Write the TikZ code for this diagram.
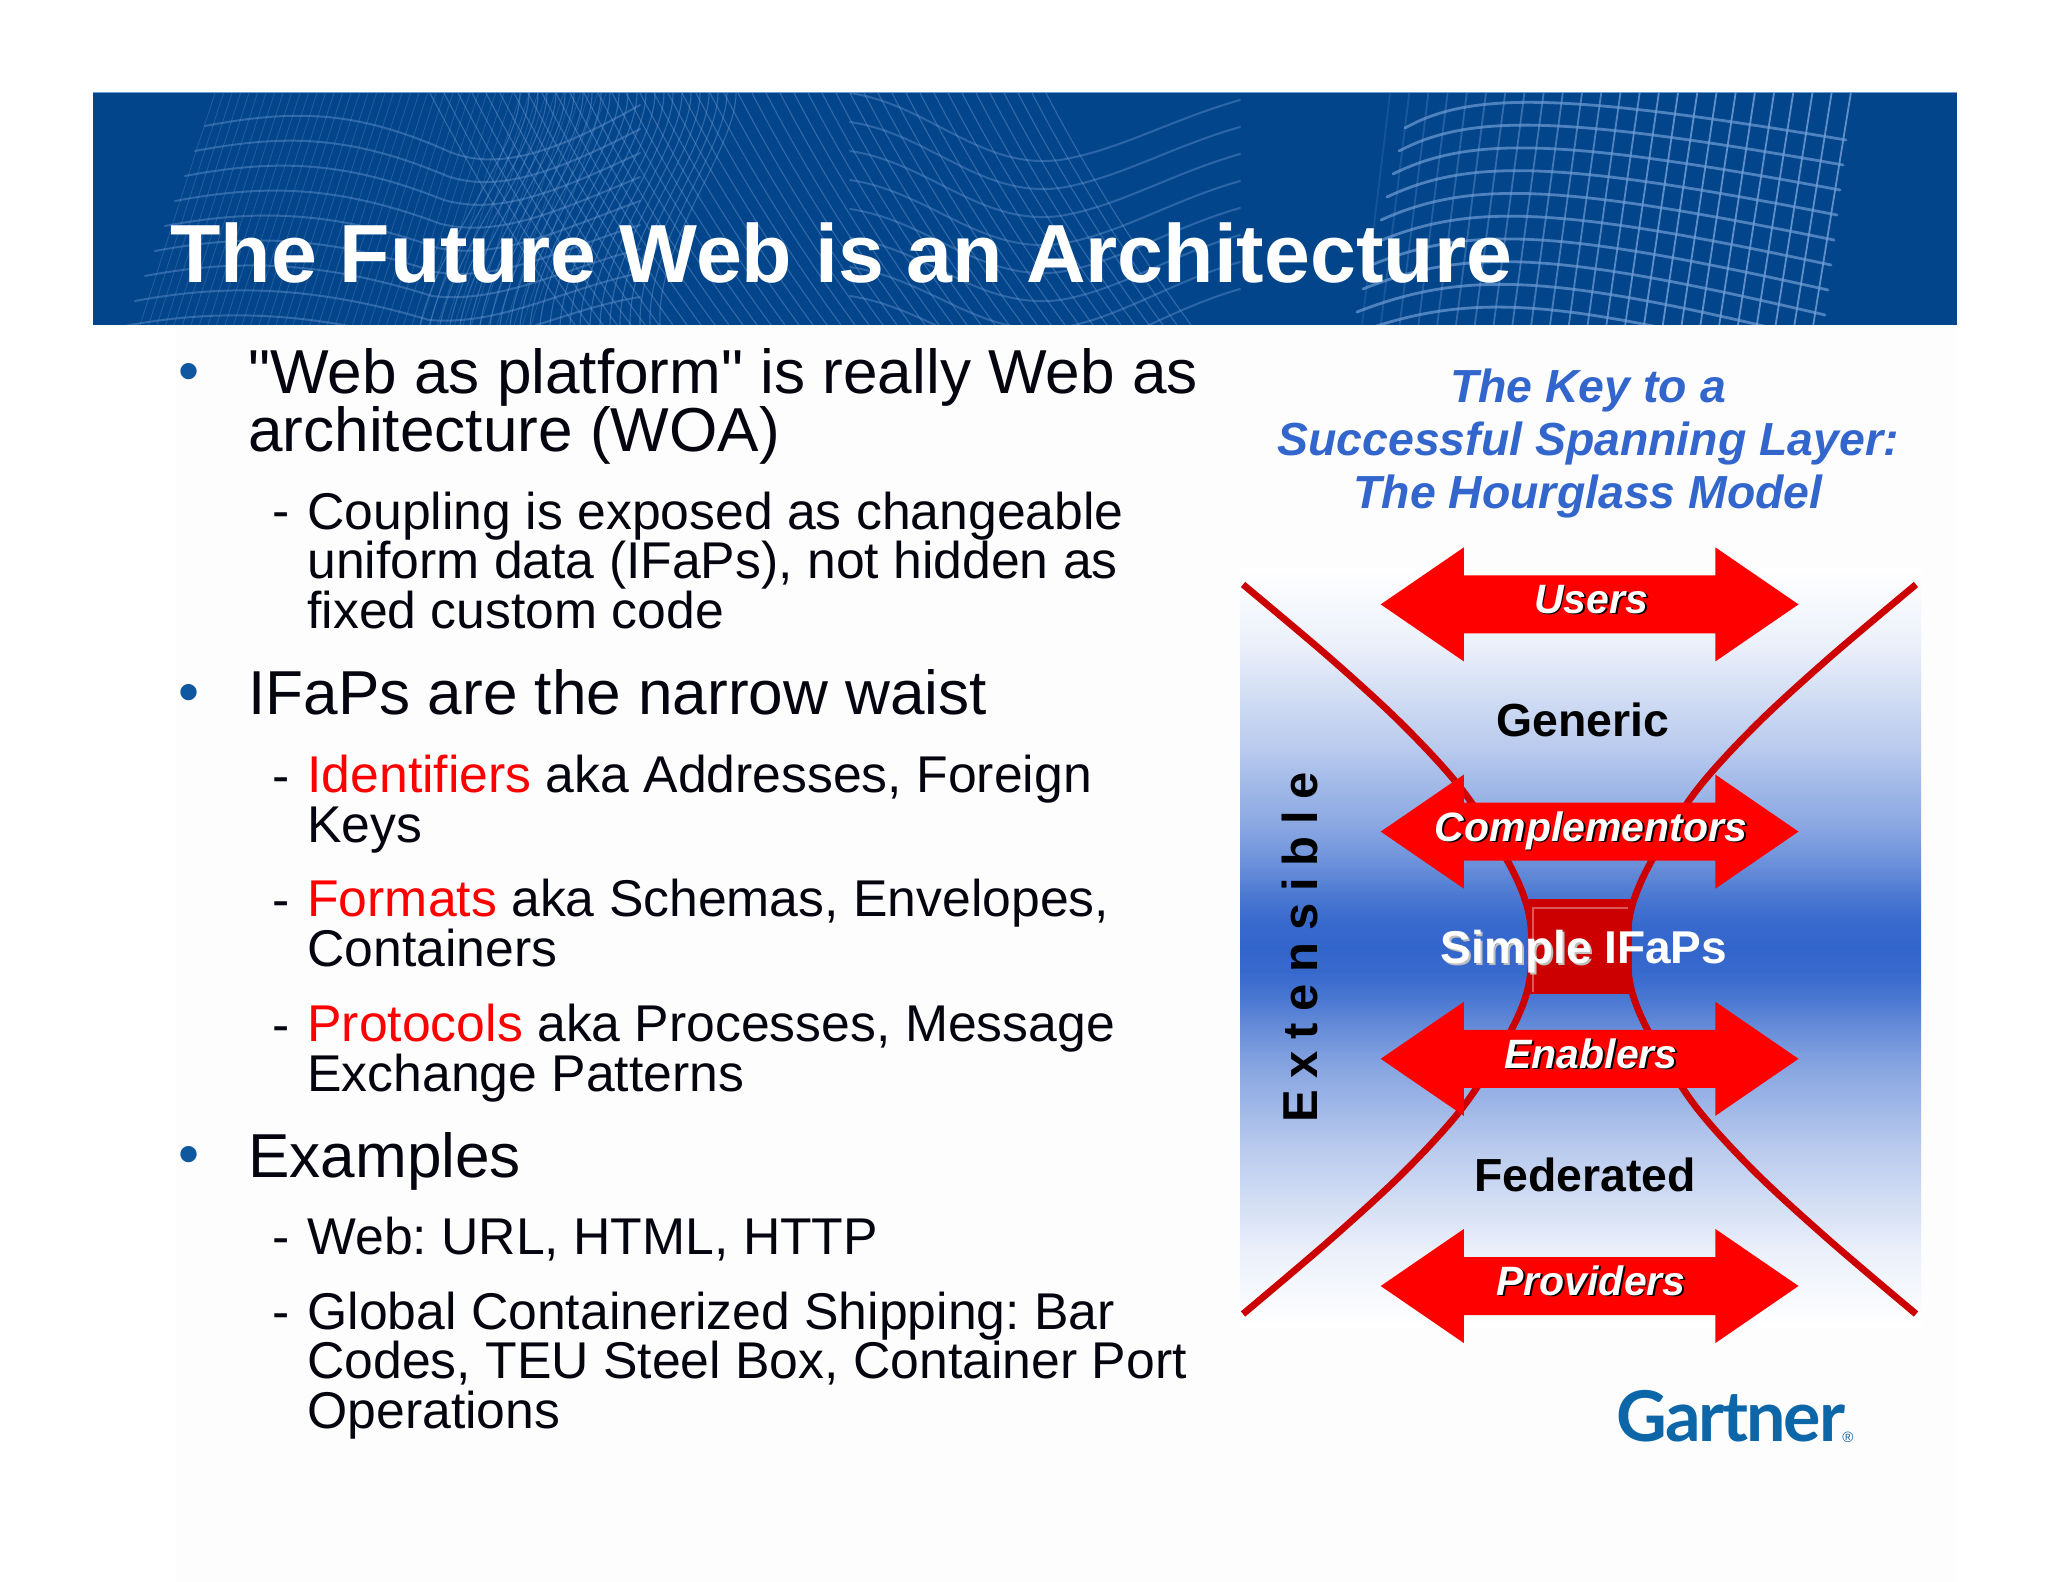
\documentclass[tikz,border=0pt]{standalone}
\usepackage{fontspec}
\setmainfont{Liberation Sans}
\newfontfamily\quotefont{Liberation Sans}
\newfontfamily\extfont{Liberation Sans}[WordSpace=0.86]
\newfontfamily\gartfont{Lato}[LetterSpace=-3]
\usetikzlibrary{calc}
\definecolor{hdrblue}{HTML}{03458A}
\definecolor{meshblue}{HTML}{6F9DD6}
\definecolor{bodyink}{HTML}{050510}
\definecolor{bulletblue}{HTML}{0F589F}
\definecolor{keyblue}{HTML}{3366CC}
\definecolor{hgred}{HTML}{CC0000}
\definecolor{gartblue}{HTML}{0C66A8}
\definecolor{pagetint}{HTML}{FDFDFE}
\pgfdeclareverticalshading{hourglassbg}{100bp}{
  color(0bp)=(white); color(25bp)=(white);
  color(30bp)=(white!90!keyblue); color(36.9bp)=(white!65!keyblue); color(42bp)=(white!42!keyblue);
  color(44.5bp)=(white!27!keyblue); color(47bp)=(white!9!keyblue); color(48.5bp)=(white!2!keyblue); color(50bp)=(keyblue);
  color(51.5bp)=(white!2!keyblue); color(53bp)=(white!9!keyblue); color(55.5bp)=(white!27!keyblue); color(58bp)=(white!42!keyblue); color(63.1bp)=(white!65!keyblue);
  color(70bp)=(white!90!keyblue); color(75bp)=(white); color(100bp)=(white)}
\newcommand{\fs}[2]{\fontsize{#1}{#2}\selectfont}
\newcommand{\rd}[1]{\textcolor{red}{#1}}
\newcommand{\shad}[2]{\leavevmode\rlap{\raisebox{-0.045em}{\hspace{0.045em}\textcolor{#1}{#2}}}#2}
\newcommand{\qq}{{\quotefont"}}
\tikzset{
  x=0.5pt,y=-0.5pt,
  lvlone/.style={anchor=base west,inner sep=0pt,align=left,text=bodyink,font=\fs{31.05}{29}},
  lvltwo/.style={anchor=base west,inner sep=0pt,align=left,text=bodyink,font=\fs{25.85}{24.65}},
  bul/.style={anchor=base,inner sep=0pt,text=bulletblue,font=\fs{30}{30}},
  dashmark/.style={anchor=base west,inner sep=0pt,text=bodyink,font=\fs{25.85}{24.65}},
  keyline/.style={anchor=base,inner sep=0pt,text=keyblue,font=\fs{23.2}{26}\bfseries\itshape},
  arrowlabel/.style={anchor=base,inner sep=0pt,text=white,font=\fs{20.5}{24}\bfseries\itshape},
  blacklabel/.style={anchor=base,inner sep=0pt,text=black,font=\fs{23.2}{26}\bfseries},
  dblarrow/.style={fill=red,draw=none},
  hgline/.style={draw=hgred,line width=3.4pt,line cap=butt,smooth,tension=0.55},
  meshline/.style={draw=meshblue,line cap=round}
}
\newcommand{\dbl}[2]{% name, center y
  \path[dblarrow] (1380.7,#2) -- (1463.8,#2-57) -- (1463.8,#2-29) -- (1715.4,#2-29) -- (1715.4,#2-57)
    -- (1798.5,#2) -- (1715.4,#2+57) -- (1715.4,#2+29) -- (1463.8,#2+29) -- (1463.8,#2+57) -- cycle;
}
\begin{document}
\frenchspacing
\begin{tikzpicture}
\useasboundingbox (0,0) rectangle (2048,1582);
\fill[white] (0,0) rectangle (2048,1582);
\fill[pagetint] (176,325) rectangle (1957,1582);
% header band
\fill[hdrblue] (93,93) rectangle (1957,325);
\draw[meshblue,line width=.5pt] (93,93) -- (1957,93);
\begin{scope}
\clip (93,93) rectangle (1957,325);
% left near-vertical hairlines
\foreach \k in {0,...,46}{
  \draw[meshline,opacity=.28,line width=.4pt] (215+\k*8.5,93) -- (140+\k*8.5,325);
}
% left wave family
\foreach \k in {0,...,8}{
  \draw[meshline,opacity=.4,line width=1pt] ({205-\k*10},{126+\k*25})
    .. controls ({300-\k*10},{108+\k*25}) and ({360-\k*6},{112+\k*25}) .. ({450-\k*3},{152+\k*24})
    .. controls ({500},{172+\k*22}) and ({560},{150+\k*20}) .. ({640},{105+\k*24});
}
% central diagonals, falling to the right
\foreach \k in {0,...,44}{
  \draw[meshline,opacity=.42,line width=.55pt] (430+\k*14,93) .. controls (470+\k*14,170) and (520+\k*14,250) .. (575+\k*14,325);
}
% central diagonals, rising to the right
\foreach \k in {0,...,24}{
  \draw[meshline,opacity=.42,line width=.55pt] (520+\k*9,93) .. controls (520+\k*9,150) and (440+\k*9,240) .. (420+\k*10,325);
}
% middle waves
\foreach \k in {0,...,7}{
  \draw[meshline,opacity=.38,line width=1pt] ({850},{93+\k*29})
    .. controls ({930},{105+\k*29}) and ({980},{170+\k*28}) .. ({1060},{160+\k*28})
    .. controls ({1120},{150+\k*28}) and ({1170},{120+\k*27}) .. ({1240},{100+\k*27});
}
% right mesh
\foreach \k in {0,...,24}{
  \pgfmathsetmacro{\op}{min(.85,.18+\k*.045)}
  \draw[meshline,opacity=\op,line width=.9pt] (1390+\k*19.2,93) -- (1362+\k*18.8,325);
}
\foreach \k in {0,...,10}{
  \draw[meshline,opacity=.7,line width=1.4pt] ({1405-\k*6},{128+\k*23})
     .. controls ({1470},{92+\k*22}) and ({1560},{92+\k*23}) .. ({1846-\k*3},{140+\k*25});
}
\end{scope}
\node[anchor=base west,inner sep=0pt,text=white,font=\fs{41.25}{44}\bfseries] (title) at (170,283) {The Future Web is an Architecture};

% bullets
\node[bul] (b1) at (189,392) {•};
\node[bul] (b2) at (189,712) {•};
\node[bul] (b3) at (189,1174) {•};
\node[lvlone] (t1) at (248,452) {\qq Web as platform\qq{} is really Web as\\architecture (WOA)};
\node[dashmark] (d1) at (272,529) {-};
\node[lvltwo] (s1) at (307,628) {Coupling is exposed as changeable\\uniform data (IFaPs), not hidden as\\fixed custom code};
\node[lvlone] (t2) at (248,714) {IFaPs are the narrow waist};
\node[dashmark] (d2) at (272,793) {-};
\node[lvltwo] (s2) at (307,842) {\rd{Identifiers} aka Addresses, Foreign\\Keys};
\node[dashmark] (d3) at (272,917) {-};
\node[lvltwo] (s3) at (307,966) {\rd{Formats} aka Schemas, Envelopes,\\Containers};
\node[dashmark] (d4) at (272,1042) {-};
\node[lvltwo] (s4) at (307,1091) {\rd{Protocols} aka Processes, Message\\Exchange Patterns};
\node[lvlone] (t3) at (248,1177) {Examples};
\node[dashmark] (d5) at (272,1254) {-};
\node[lvltwo] (s5) at (307,1254) {Web: URL, HTML, HTTP};
\node[dashmark] (d6) at (272,1329) {-};
\node[lvltwo] (s6) at (307,1428) {Global Containerized Shipping: Bar\\Codes, TEU Steel Box, Container Port\\Operations};

% key title
\node[keyline] (k1) at (1588,403) {The Key to a};
\node[keyline] (k2) at (1588,456) {Successful Spanning Layer:};
\node[keyline] (k3) at (1588,509) {The Hourglass Model};

% hourglass panel
\path[shading=hourglassbg] (1240,569) rectangle (1921,1327);
% curves
\draw[hgline] plot coordinates {(1243,584.5) (1330,658) (1404,726) (1463,791) (1507,860) (1527,906) (1532,948) (1527,992) (1507,1038) (1463,1107) (1404,1172) (1330,1240) (1243,1314)};
\draw[hgline] plot coordinates {(1916,584.5) (1829,658) (1755,726) (1696,791) (1652,860) (1632,906) (1627,948) (1632,992) (1652,1038) (1696,1107) (1755,1172) (1829,1240) (1916,1314)};
% waist square
\fill[hgred] (1528,899) rectangle (1632,994);
\draw[white,opacity=.35,line width=.8pt] (1533,992) -- (1533,908) -- (1628,908);
% arrows
\dbl{users}{604.4}
\dbl{comp}{831.6}
\dbl{enab}{1058.8}
\dbl{prov}{1286}
\node[arrowlabel] (users) at (1591,613) {\shad{black}{Users}};
\node[arrowlabel] (comp) at (1591,841) {\shad{black}{Complementors}};
\node[arrowlabel] (enab) at (1591,1068) {\shad{black}{Enablers}};
\node[arrowlabel] (prov) at (1591,1295) {\shad{black}{Providers}};
\node[blacklabel] (gen) at (1583,736) {Generic};
\node[blacklabel] (fed) at (1585,1191) {Federated};
\node[anchor=base,inner sep=0pt,text=white,font=\fs{23}{26}\bfseries] (ifaps) at (1584,963) {\shad{black!25}{Simple} IFaPs};
\node[anchor=base west,rotate=90,inner sep=0pt,text=black,font=\extfont\fs{24.5}{26}\bfseries] (ext) at (1317,1123) {E x t e n s i b l e};
% logo
\node[anchor=base west,inner sep=0pt,text=gartblue,font=\gartfont\fs{35}{36}\bfseries] (gart) at (1616,1441) {Gartner};
\node[anchor=base west,inner sep=0pt,text=gartblue,font=\fs{7.5}{8}] (reg) at (1842,1442) {®};
\end{tikzpicture}
\end{document}
